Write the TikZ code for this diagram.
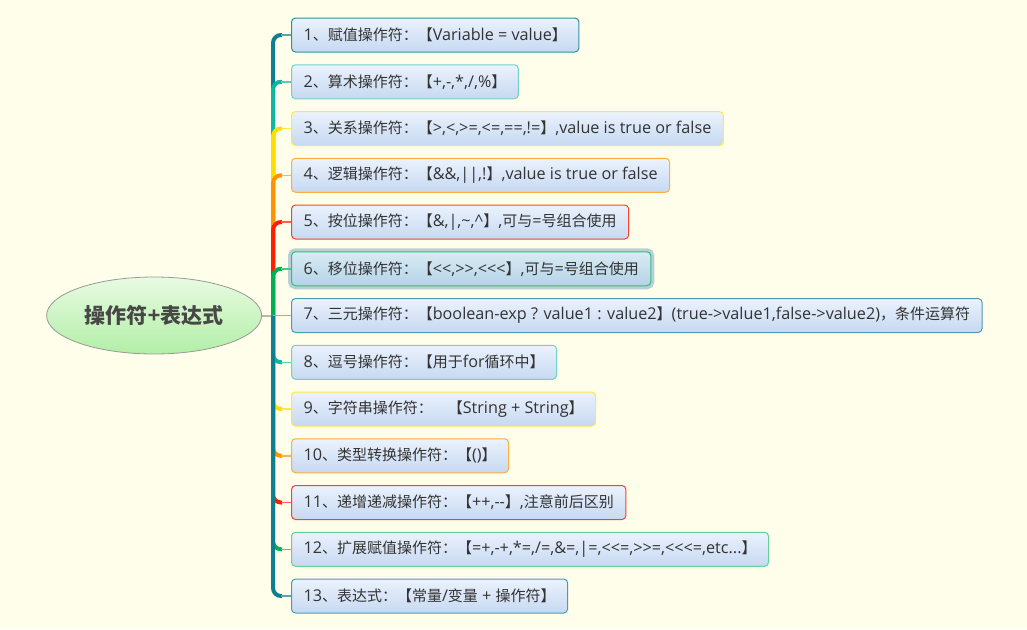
\documentclass[tikz,border=0pt]{standalone}
\usepackage{fontspec}
\setmainfont{Open Sans}[Scale=1.08]
\newfontfamily\latin{Open Sans}[Scale=1.08]
\newfontfamily\hanzi{Noto Sans CJK SC}
\usetikzlibrary{positioning, shapes.geometric}

% Chinese characters are set in the CJK face, the rest in the Latin one
\chardef\hanzicls=77
\newcount\hanzic
\def\hanzirange#1#2{\hanzic=#1\relax
  \loop\XeTeXcharclass\hanzic=\hanzicls
    \ifnum\hanzic<#2\relax\advance\hanzic by 1\repeat}
\hanzirange{"3000}{"303F}
\hanzirange{"4E00}{"9FFF}
\hanzirange{"FF00}{"FFEF}
\def\tohanzi#1{\XeTeXinterchartoks #1 \hanzicls = {\hanzi}%
  \XeTeXinterchartoks \hanzicls #1 = {\latin}}
\tohanzi{0}\tohanzi{1}\tohanzi{2}\tohanzi{3}\tohanzi{4095}
\XeTeXinterchartokenstate=1

\definecolor{paper}{HTML}{FEFEEA}
\definecolor{ink}{HTML}{333333}
\definecolor{boxtop}{HTML}{EBF2FD}
\definecolor{boxbot}{HTML}{C6D9F1}
\definecolor{seltop}{HTML}{D9EBF3}
\definecolor{selbot}{HTML}{B5D3E8}
\definecolor{halo}{HTML}{B9CFD8}
\definecolor{roottop}{HTML}{E8FBE2}
\definecolor{rootbot}{HTML}{B2EEA6}
\definecolor{cA}{HTML}{0F7E8E}
\definecolor{cB}{HTML}{12B5A0}
\definecolor{cC}{HTML}{FFDD00}
\definecolor{cD}{HTML}{FF9200}
\definecolor{cE}{HTML}{FF1E00}
\definecolor{cF}{HTML}{00B050}
\definecolor{cG}{HTML}{4A9CB5}

\begin{document}
\begin{tikzpicture}[
  x=1pt, y=-1pt,
  node distance=11.75pt,
  font=\fontsize{15}{18}\selectfont,
  topic/.style={
    rectangle, rounded corners=4pt,
    draw=#1, line width=1pt,
    top color=boxtop, bottom color=boxbot,
    text=ink,
    inner xsep=12pt, inner ysep=0pt,
    minimum height=34pt
  },
  root/.style={
    ellipse, draw=gray!80, line width=0.8pt,
    top color=roottop, bottom color=rootbot,
    minimum width=215pt, minimum height=77pt,
    inner sep=0pt, text=ink!90,
    font=\fontsize{21}{25}\selectfont\bfseries
  },
  trunk/.style={draw=#1, line width=4pt, rounded corners=8pt},
  twig/.style={draw=#1!70!white, line width=1.5pt}
]

\fill[paper] (0,0) rectangle (1027,629);
\useasboundingbox (0,0) rectangle (1027,629);

\node[topic=cA!85!white, anchor=west] (n1) at (291,35) {1、赋值操作符：【Variable = value】};

\node[topic=cB!60!white, below=of n1.south west, anchor=north west] (n2) {2、算术操作符：【+,-,*,/,\%】};

\node[topic=cC!70!white, below=of n2.south west, anchor=north west] (n3) {3、关系操作符：【>,<,>=,<=,==,!=】,value is true or false};

\node[topic=cD!75!white, below=of n3.south west, anchor=north west] (n4) {4、逻辑操作符：【\&\&,||,!】,value is true or false};

\node[topic=cE!85!white, below=of n4.south west, anchor=north west] (n5) {5、按位操作符：【\&,|,\textasciitilde,\textasciicircum】,可与=号组合使用};

\node[topic=cF!80!white, top color=seltop, bottom color=selbot,
  preaction={draw=halo, line width=7pt},
  below=of n5.south west, anchor=north west] (n6) {6、移位操作符：【<{}<,>{}>,<{}<{}<】,可与=号组合使用};

\node[topic=cG, below=of n6.south west, anchor=north west] (n7) {7、三元操作符：【boolean-exp ? value1 : value2】(true->value1,false->value2)，条件运算符};

\node[topic=cB!60!white, below=of n7.south west, anchor=north west] (n8) {8、逗号操作符：【用于for循环中】};

\node[topic=cC!70!white, below=of n8.south west, anchor=north west] (n9) {9、字符串操作符：　【String + String】};

\node[topic=cD!75!white, below=of n9.south west, anchor=north west] (n10) {10、类型转换操作符：【()】};

\node[topic=cE!85!white, below=of n10.south west, anchor=north west] (n11) {11、递增递减操作符：【++,-{}-】,注意前后区别};

\node[topic=cF!60!white, below=of n11.south west, anchor=north west] (n12) {12、扩展赋值操作符：【=+,-+,*=,/=,\&=,|=,<{}<=,>{}>=,<{}<{}<=,etc...】};

\node[topic=cG, below=of n12.south west, anchor=north west] (n13) {13、表达式：【常量/变量 + 操作符】};

% hub on the trunk and the central topic
\coordinate[left=18pt of n7.west] (hub);
\node[root, left=11pt of hub] (root) {操作符+表达式};

\draw[draw=gray!55!paper, line width=2pt] (root.east) -- (hub);

\foreach \i/\c in {1/cA,2/cB,3/cC,4/cD,5/cE,6/cF,8/cB,9/cC,10/cD,11/cE,12/cF,13/cA} {
  \draw[trunk=\c] (hub) |- ([xshift=-9pt]n\i.west);
  \draw[twig=\c] ([xshift=-10pt]n\i.west) -- (n\i.west);
}
\draw[twig=cG] (hub) -- (n7.west);

\end{tikzpicture}
\end{document}
